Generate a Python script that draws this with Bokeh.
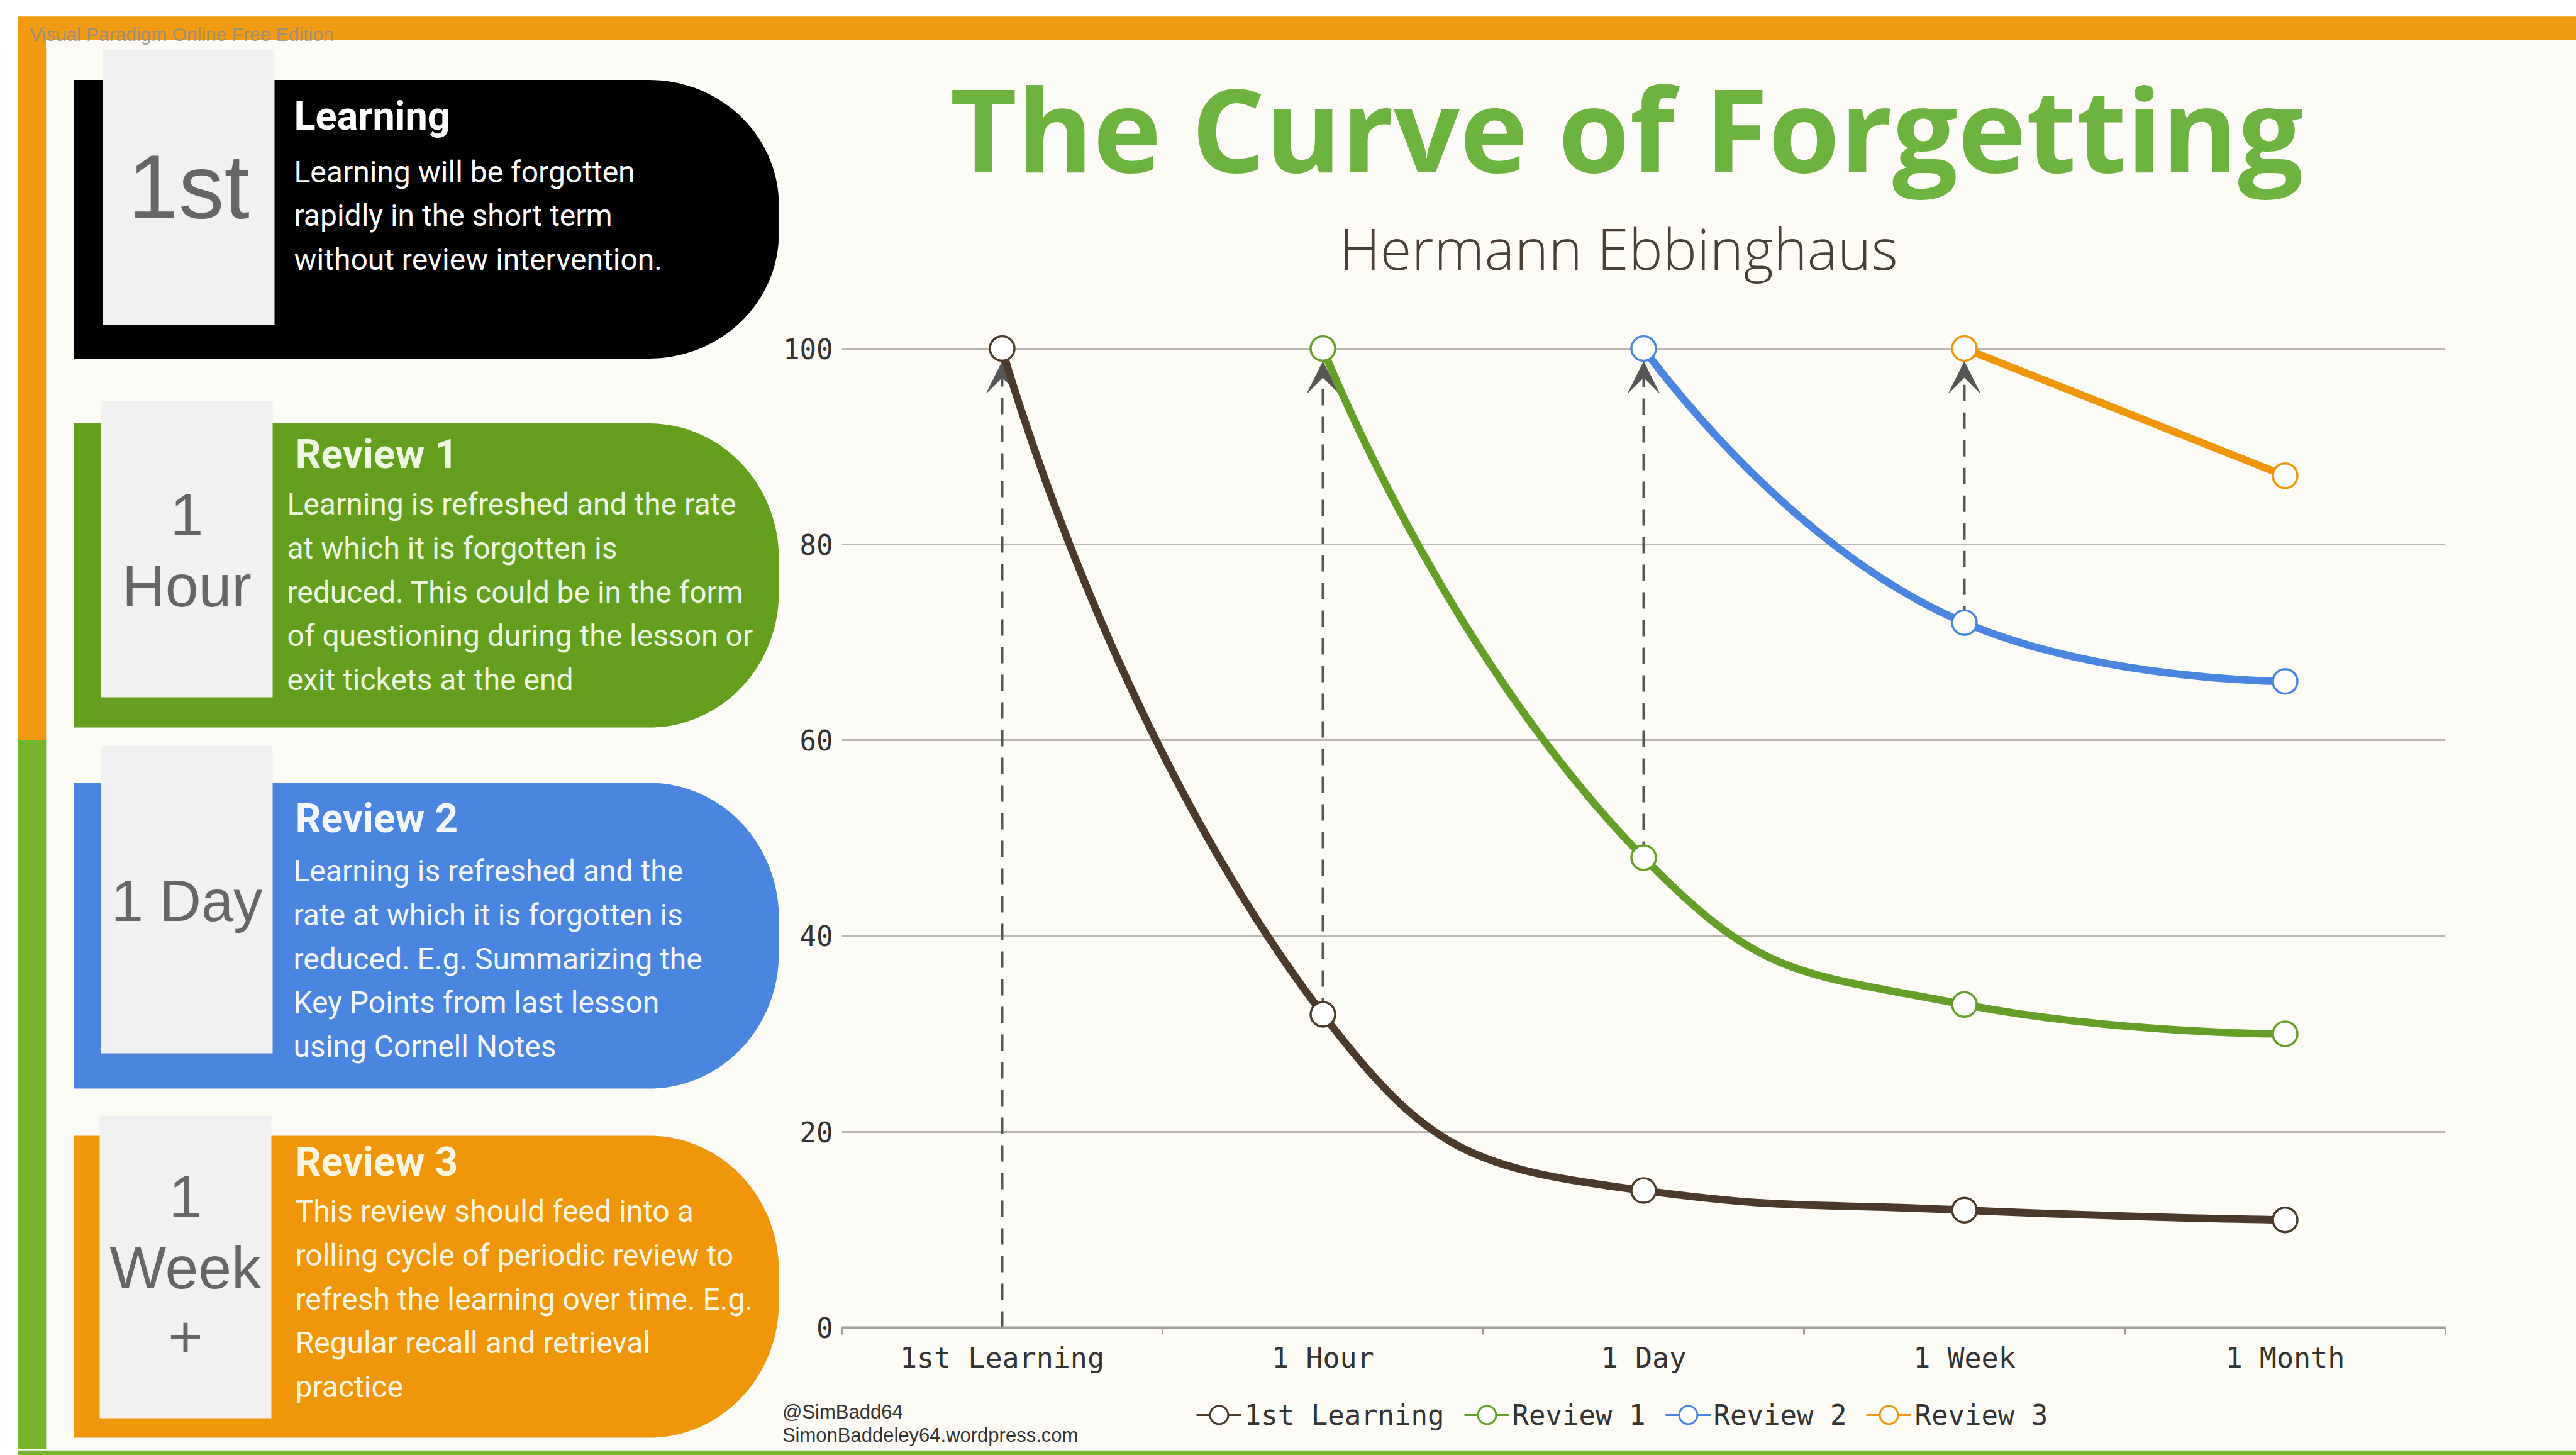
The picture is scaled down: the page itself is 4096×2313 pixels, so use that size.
import math
from bokeh.plotting import figure
from bokeh.layouts import column, row
from bokeh.models import (Range1d, FixedTicker, Legend, LegendItem, Arrow,
                          VeeHead, ColumnDataSource)
from bokeh.core.properties import value
from bokeh.embed import file_html
from bokeh.resources import INLINE

# ---------------- chart data ----------------
categories = ["1st Learning", "1 Hour", "1 Day", "1 Week", "1 Month"]
series_names = ["1st Learning", "Review 1", "Review 2", "Review 3"]
first_learning = [100, 32, 14, 12, 11]
review_1 = [None, 100, 48, 33, 30]
review_2 = [None, None, 100, 72, 66]
review_3 = [None, None, None, 100, 87]
y_ticks = [0, 20, 40, 60, 80, 100]

title_text = "The Curve of Forgetting"
subtitle_text = "Hermann Ebbinghaus"
credit_lines = ["@SimBadd64", "SimonBaddeley64.wordpress.com"]
watermark_text = "Visual Paradigm Online Free Edition"

card_titles = ["Learning", "Review 1", "Review 2", "Review 3"]
card_tags = [["1st"], ["1", "Hour"], ["1 Day"], ["1", "Week", "+"]]
card_bodies = [
    ["Learning will be forgotten", "rapidly in the short term",
     "without review intervention."],
    ["Learning is refreshed and the rate", "at which it is forgotten is",
     "reduced. This could be in the form", "of questioning during the lesson or",
     "exit tickets at the end"],
    ["Learning is refreshed and the", "rate at which it is forgotten is",
     "reduced.  E.g. Summarizing the", "Key Points from last lesson",
     "using Cornell Notes"],
    ["This review should feed into a", "rolling cycle of periodic review to",
     "refresh the learning over time.  E.g.", "Regular recall and retrieval",
     "practice"],
]

# ---------------- styles ----------------
CREAM = "#FDFBF6"
ORANGE = "#F29A12"
GREEN_STRIP = "#76B52F"
series_colors = ["#4B3A2A", "#64A028", "#4A86E0", "#F0960A"]
card_colors = ["#000000", "#62A01E", "#4A86E0", "#F0960B"]
card_text_colors = ["#FFFFFF", "#EEF7E2", "#F4F7FF", "#FFF6E2"]
ARROW_COLOR = "#555555"
GRID_COLOR = "#BAB7B2"
AXIS_COLOR = "#A09D98"
MONO = "DejaVu Sans Mono"

# ---------------- page layout (window pixels) ----------------
X0, X1 = 0, 4096
TOP_Y0, TOP_Y1 = 0, 76
MID_Y1 = 2303
BOT_Y1 = 2313
SPLIT_X = 1242
TITLE_Y1 = 500
CHART_Y1 = 2196
STRIP_L, STRIP_R = 28.5, 72.8
STRIP_SPLIT_Y = 1176


def plain_fig(x0, x1, y0, y1, bg):
    return figure(width=int(x1 - x0), height=int(y1 - y0),
                  x_range=Range1d(x0, x1), y_range=Range1d(y1, y0),
                  x_axis_type=None, y_axis_type=None, output_backend="svg",
                  toolbar_location=None, min_border=0, outline_line_color=None,
                  background_fill_color=bg, border_fill_color=bg, frame_align=False)


# ---------- top strip ----------
top = plain_fig(X0, X1, TOP_Y0, TOP_Y1, "white")
top.quad(left=STRIP_L, right=X1, top=25.8, bottom=63.5, fill_color=ORANGE, line_color=None)
top.quad(left=STRIP_L, right=STRIP_R, top=63.5, bottom=TOP_Y1, fill_color=ORANGE, line_color=None)
top.quad(left=STRIP_R, right=X1, top=63.5, bottom=TOP_Y1, fill_color=CREAM, line_color=None)
top.text(x=[47], y=[54], text=[watermark_text], text_font=value("Liberation Sans"),
         text_font_size="30px", text_color="#8C8C8C", text_alpha=0.85,
         text_baseline="middle", text_align="left")

# ---------- left panel with cards ----------
left = plain_fig(X0, SPLIT_X, TOP_Y1, MID_Y1, CREAM)
left.quad(left=X0, right=STRIP_L, top=TOP_Y1, bottom=MID_Y1, fill_color="white", line_color=None)
left.quad(left=STRIP_L, right=STRIP_R, top=TOP_Y1, bottom=STRIP_SPLIT_Y, fill_color=ORANGE, line_color=None)
left.quad(left=STRIP_L, right=STRIP_R, top=STRIP_SPLIT_Y, bottom=MID_Y1, fill_color=GREEN_STRIP, line_color=None)

card_x0, card_x1 = 117, 1238
card_tops = [126.6, 672.6, 1244, 1805]
card_bots = [569.4, 1156, 1730, 2285]
box_lr = [(163, 436), (160, 433), (160, 433), (158, 431)]
box_tb = [(78, 516), (637, 1108), (1185, 1674), (1773, 2254)]
tag_x = [299.5, 296.5, 296.5, 294.5]
tag_y = [[296], [817.6, 930], [1431.5], [1901.7, 2014, 2123.7]]
tag_size = ["145px", "95px", "92px", "95px"]
title_x = [467, 469, 469, 469]
title_y = [184, 722, 1301, 1847]
title_size = ["63px", "64px", "64px", "64px"]
body_x = [467, 456, 466, 469]
body_y0 = [272.5, 801, 1384, 1925]
body_step = 69.8


def card_outline(x0, x1, y0, y1, rx, ry, n=48):
    xs, ys = [x0, x1 - rx], [y0, y0]
    cx = x1 - rx
    for k in range(1, n + 1):
        t = (math.pi / 2) * k / n
        xs.append(cx + rx * math.sin(t)); ys.append(y0 + ry - ry * math.cos(t))
    for k in range(0, n + 1):
        t = (math.pi / 2) * k / n
        xs.append(cx + rx * math.cos(t)); ys.append(y1 - ry + ry * math.sin(t))
    xs.append(x0); ys.append(y1)
    return xs, ys


for i in range(4):
    h = card_bots[i] - card_tops[i]
    xs, ys = card_outline(card_x0, card_x1, card_tops[i], card_bots[i], 206, min(0.45 * h, 215))
    left.patch(xs, ys, fill_color=card_colors[i], line_color=None)
    bl, br = box_lr[i]
    bt, bb = box_tb[i]
    left.quad(left=bl, right=br, top=bt, bottom=bb, fill_color="#F1F1F2", line_color=None)
    left.text(x=[tag_x[i]] * len(card_tags[i]), y=tag_y[i], text=card_tags[i],
              text_font=value("Liberation Sans"), text_font_size=tag_size[i],
              text_color="#666666", text_align="center", text_baseline="middle")
    left.text(x=[title_x[i]], y=[title_y[i]], text=[card_titles[i]],
              text_font=value("Roboto"), text_font_style="bold",
              text_font_size=title_size[i], text_color=card_text_colors[i],
              text_align="left", text_baseline="middle")
    body = card_bodies[i]
    left.text(x=[body_x[i]] * len(body), y=[body_y0[i] + k * body_step for k in range(len(body))],
              text=body, text_font=value("Roboto"), text_font_size="48px",
              text_color=card_text_colors[i], text_align="left", text_baseline="middle")

# ---------- title block ----------
title_fig = plain_fig(SPLIT_X, X1, TOP_Y1, TITLE_Y1, CREAM)
title_fig.text(x=[2586], y=[202], text=[title_text], text_font=value("Open Sans"),
               text_font_style="bold", text_font_size="184px", text_color="#6DB33F",
               text_align="center", text_baseline="middle")
title_fig.text(x=[2573], y=[393], text=[subtitle_text],
               text_font=value("Open Sans Light, Open Sans"),
               text_font_size="91px", text_color="#4A3F35",
               text_align="center", text_baseline="middle")

# ---------- chart ----------
CHART_W = X1 - SPLIT_X
CHART_H = CHART_Y1 - TITLE_Y1
FRAME_TOP = 510
FRAME_BOTTOM = 2110                   # window y of value 0
FRAME_RIGHT = 3888
MB_L = 94
MB_R = X1 - FRAME_RIGHT
MB_T = FRAME_TOP - TITLE_Y1
MB_B = CHART_Y1 - FRAME_BOTTOM
FRAME_W = CHART_W - MB_L - MB_R
FRAME_H = FRAME_BOTTOM - FRAME_TOP
Y100 = 553.5                          # window y of value 100
PPU = (FRAME_BOTTOM - Y100) / 100.0
PPC = FRAME_W / len(categories)
y_top = FRAME_H / PPU

chart = figure(width=CHART_W, height=CHART_H, x_range=Range1d(0, len(categories)),
               y_range=Range1d(0, y_top), output_backend="svg", toolbar_location=None,
               min_border_left=MB_L, min_border_right=MB_R, min_border_top=MB_T,
               min_border_bottom=MB_B, background_fill_color=CREAM,
               border_fill_color=CREAM, outline_line_color=None, frame_align=False)

chart.xgrid.visible = False
chart.ygrid.ticker = FixedTicker(ticks=y_ticks)
chart.ygrid.grid_line_color = GRID_COLOR
chart.ygrid.grid_line_width = 3

yax = chart.yaxis[0]
yax.ticker = FixedTicker(ticks=y_ticks)
yax.axis_line_color = None
yax.major_tick_line_color = None
yax.minor_tick_line_color = None
yax.major_tick_out = 0
yax.major_label_standoff = 14
yax.major_label_text_font = MONO
yax.major_label_text_font_size = "44px"
yax.major_label_text_color = "#333333"

xax = chart.xaxis[0]
centers = [i + 0.5 for i in range(len(categories))]
xax.ticker = FixedTicker(ticks=centers, minor_ticks=list(range(len(categories) + 1)))
xax.major_label_overrides = {c: lab for c, lab in zip(centers, categories)}
xax.major_tick_out = 0
xax.major_tick_in = 0
xax.minor_tick_out = 11
xax.minor_tick_in = 0
xax.minor_tick_line_color = AXIS_COLOR
xax.minor_tick_line_width = 3
xax.axis_line_color = AXIS_COLOR
xax.axis_line_width = 4
xax.major_label_standoff = 10
xax.major_label_text_font = MONO
xax.major_label_text_font_size = "45px"
xax.major_label_text_color = "#333333"


def echarts_smooth_segments(xs, ys, smooth=0.5):
    segs = []
    n = len(xs)
    cpx0, cpy0 = xs[0], ys[0]
    for k in range(1, n):
        x, y = xs[k], ys[k]
        px_, py_ = xs[k - 1], ys[k - 1]
        if k == n - 1:
            cpx1, cpy1 = x, y
            ncx, ncy = x, y
        else:
            nx, ny = xs[k + 1], ys[k + 1]
            vx, vy = nx - px_, ny - py_
            len_prev = math.hypot(x - px_, y - py_)
            len_next = math.hypot(nx - x, ny - y)
            ratio = len_next / (len_next + len_prev)
            ncx = x + vx * smooth * ratio
            ncy = y + vy * smooth * ratio
            ncx = max(min(ncx, max(nx, x)), min(nx, x))
            ncy = max(min(ncy, max(ny, y)), min(ny, y))
            vx, vy = ncx - x, ncy - y
            cpx1 = x - vx * len_prev / len_next
            cpy1 = y - vy * len_prev / len_next
            cpx1 = max(min(cpx1, max(px_, x)), min(px_, x))
            cpy1 = max(min(cpy1, max(py_, y)), min(py_, y))
            vx, vy = x - cpx1, y - cpy1
            ncx = x + vx * len_next / len_prev
            ncy = y + vy * len_next / len_prev
        segs.append((px_, py_, cpx0, cpy0, cpx1, cpy1, x, y))
        cpx0, cpy0 = ncx, ncy
    return segs


all_series = [first_learning, review_1, review_2, review_3]

# dashed review arrows (from previous retention up to the refreshed 100)
MARK_R = 21
for k in range(4):
    y_start = 0 if k == 0 else all_series[k - 1][k]
    y_end = all_series[k][k] - MARK_R / PPU
    chart.add_layout(Arrow(end=VeeHead(size=50, fill_color=ARROW_COLOR, line_color=ARROW_COLOR),
                           x_start=centers[k], y_start=y_start, x_end=centers[k], y_end=y_end,
                           line_color=ARROW_COLOR, line_width=4, line_dash="26 18",
                           level="underlay"))

for s, color in zip(all_series, series_colors):
    xs = [centers[i] for i, v in enumerate(s) if v is not None]
    ys = [v for v in s if v is not None]
    segs = echarts_smooth_segments([x * PPC for x in xs], [y * PPU for y in ys])
    src = ColumnDataSource(dict(
        x0=[g[0] / PPC for g in segs], y0=[g[1] / PPU for g in segs],
        cx0=[g[2] / PPC for g in segs], cy0=[g[3] / PPU for g in segs],
        cx1=[g[4] / PPC for g in segs], cy1=[g[5] / PPU for g in segs],
        x1=[g[6] / PPC for g in segs], y1=[g[7] / PPU for g in segs]))
    chart.bezier(x0="x0", y0="y0", x1="x1", y1="y1", cx0="cx0", cy0="cy0",
                 cx1="cx1", cy1="cy1", source=src, line_color=color, line_width=12,
                 line_cap="round")
    chart.scatter(xs, ys, size=39, marker="circle", fill_color="white",
                  line_color=color, line_width=3.5)

# ---------- footer: legend + credits ----------
foot = plain_fig(SPLIT_X, X1, CHART_Y1, MID_Y1, CREAM)
items = []
for name, color in zip(series_names, series_colors):
    psrc = ColumnDataSource(dict(x=[float("nan")], y=[float("nan")]))
    lr = foot.line("x", "y", source=psrc, line_color=color, line_width=3)
    sr = foot.scatter("x", "y", source=psrc, size=28, marker="circle", fill_color="white",
                      line_color=color, line_width=3)
    items.append(LegendItem(label=name, renderers=[lr, sr]))
LEG_H = 72
legend = Legend(items=items, orientation="horizontal",
                location=(1901.7 - SPLIT_X, MID_Y1 - (2249 + LEG_H / 2)),
                glyph_width=72, glyph_height=LEG_H, label_standoff=5, spacing=31,
                padding=0, margin=0, border_line_color=None, background_fill_alpha=0,
                label_text_font=MONO, label_text_font_size="44px",
                label_text_color="#333333")
foot.add_layout(legend)
foot.text(x=[1243.4, 1243.4], y=[2244, 2280.5], text=credit_lines,
          text_font=value("Liberation Sans"), text_font_size="31px", text_color="#333333",
          text_align="left", text_baseline="middle")

# ---------- bottom strip ----------
bottom = plain_fig(X0, X1, MID_Y1, BOT_Y1, "white")
bottom.quad(left=STRIP_L, right=X1, top=MID_Y1, bottom=BOT_Y1, fill_color=GREEN_STRIP, line_color=None)

page = column(top, row(left, column(title_fig, chart, foot)), bottom)
open("out.html", "w").write(file_html(page, INLINE))
